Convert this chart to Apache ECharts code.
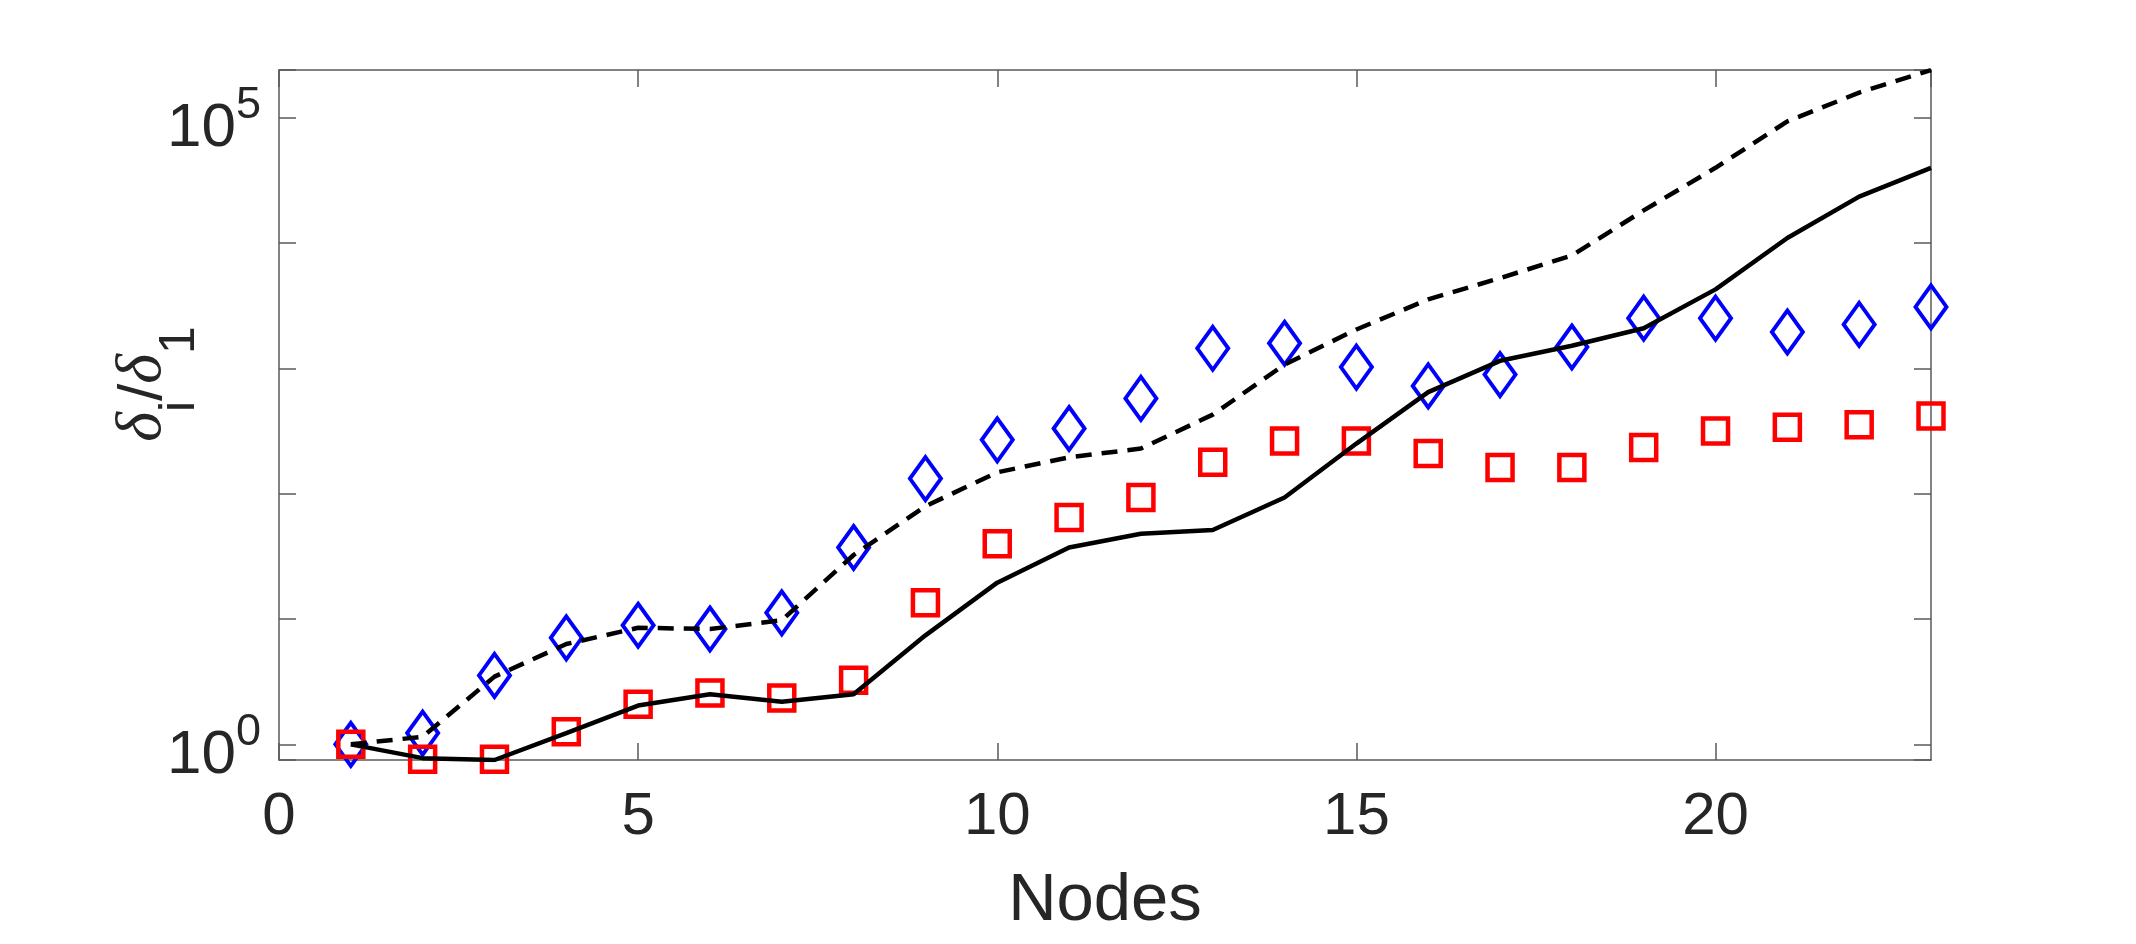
<!DOCTYPE html>
<html>
<head>
<meta charset="utf-8">
<script src="https://cdn.jsdelivr.net/npm/echarts@6.0.0/dist/echarts.min.js"></script>
<style>
    html, body {margin: 0; padding: 0; background: #fff;}
    #main {width: 2136px; height: 944px;}
</style>
</head>
<body>
<div id="main"></div>
<script>
// x positions (node index)
const nodes = [1, 2, 3, 4, 5, 6, 7, 8, 9, 10, 11, 12, 13, 14, 15, 16, 17, 18, 19, 20, 21, 22, 23];

// blue diamonds
const diamonds = [1, 1.23, 3.55, 7.08, 8.91, 8.32, 11.2, 37.2, 132, 269, 331, 575, 1445, 1585,
    1023, 724, 891, 1479, 2512, 2512, 1950, 2239, 3090];
// red squares
const squares = [1, 0.759, 0.759, 1.26, 2.09, 2.57, 2.34, 3.24, 13.5, 39.8, 64.6, 93.3, 178, 263,
    263, 209, 162, 162, 234, 316, 339, 355, 417];
// solid black line
const solidLine = [1, 0.776, 0.75, 1.23, 2.04, 2.51, 2.19, 2.51, 7.41, 19.5, 37.2, 47.9, 51.3, 93.3,
    251, 646, 1148, 1514, 2089, 4266, 10965, 23442, 39811];
// dashed black line
const dashedLine = [1, 1.15, 3.47, 6.31, 8.51, 8.32, 9.77, 32.4, 79.4, 148, 195, 229, 427, 1072,
    2042, 3548, 5248, 7943, 18197, 39811, 93325, 158489, 239883];

// tick labels
const xTicks = [0, 5, 10, 15, 20];
const yLabelPowers = [0, 5];

const font = '"Liberation Sans", Arial, Helvetica, sans-serif';
const textColor = '#262626';
const axisColor = '#5a5a5a';

const pairs = arr => arr.map((v, i) => [nodes[i], v]);

// only label 10^0 and 10^5
const yLabel = value => {
    let lg = Math.log10(value);
    let e = Math.round(lg);
    if (Math.abs(lg - e) > 1e-6 || !yLabelPowers.includes(e)) return '';
    return '{b|10}{s|' + e + '}';
};

const axisLine = {show: true, onZero: false, lineStyle: {color: axisColor, width: 1.5}};
const axisTick = {show: true, inside: true, length: 17, lineStyle: {color: axisColor, width: 1.5}};

let chart = echarts.init(document.getElementById('main'));

const option = {
    animation: false,
    backgroundColor: '#fff',
    grid: {left: 279, right: 205, top: 70, bottom: 184},
    xAxis: [
        {
            type: 'value',
            min: 0,
            max: 23,
            interval: 5,
            position: 'bottom',
            name: 'Nodes',
            nameLocation: 'middle',
            nameGap: 108,
            nameTextStyle: {fontFamily: font, fontSize: 67, color: textColor},
            axisLine: axisLine,
            axisTick: axisTick,
            axisLabel: {
                margin: 27,
                fontFamily: font,
                fontSize: 60,
                color: textColor,
                showMaxLabel: false,
                formatter: v => xTicks.includes(v) ? String(v) : ''
            },
            splitLine: {show: false}
        },
        {
            type: 'value',
            min: 0,
            max: 23,
            interval: 5,
            position: 'top',
            axisLine: axisLine,
            axisTick: axisTick,
            axisLabel: {show: false},
            splitLine: {show: false}
        }
    ],
    yAxis: [
        {
            type: 'log',
            logBase: 10,
            min: 0.75,
            max: 240000,
            position: 'left',
            name: '{d|δ}{sb|i}{sl|/}{d|δ}{sb|1}',
            nameLocation: 'middle',
            nameRotate: 90,
            nameGap: 74,
            nameMoveOverlap: false,
            nameTextStyle: {
                fontFamily: font,
                fontSize: 64,
                color: textColor,
                padding: [0, 0, 0, 62],
                rich: {
                    d: {fontFamily: '"Liberation Serif", serif', fontStyle: 'italic', fontSize: 64, color: textColor,
                        verticalAlign: 'bottom', padding: [0, 0, 30, 0]},
                    sl: {fontFamily: font, fontSize: 62, color: textColor, verticalAlign: 'bottom', padding: [0, 0, 30, 0]},
                    sb: {fontFamily: font, fontSize: 50, color: textColor, verticalAlign: 'bottom'}
                }
            },
            axisLine: axisLine,
            axisTick: axisTick,
            minorTick: {show: false},
            axisLabel: {
                margin: 18,
                fontFamily: font,
                fontSize: 62,
                color: textColor,
                padding: [8, 0, 0, 0],
                formatter: yLabel,
                rich: {
                    b: {fontFamily: font, fontSize: 62, lineHeight: 77, color: textColor, verticalAlign: 'bottom'},
                    s: {fontFamily: font, fontSize: 45, lineHeight: 45, color: textColor, verticalAlign: 'top'}
                }
            },
            splitLine: {show: false}
        },
        {
            type: 'log',
            logBase: 10,
            min: 0.75,
            max: 240000,
            position: 'right',
            axisLine: axisLine,
            axisTick: axisTick,
            minorTick: {show: false},
            axisLabel: {show: false},
            splitLine: {show: false}
        }
    ],
    series: [
        {
            type: 'scatter',
            symbol: 'diamond',
            symbolSize: [31, 43],
            data: pairs(diamonds),
            itemStyle: {color: 'rgba(0,0,0,0)', borderColor: '#0000ff', borderWidth: 4, opacity: 1},
            z: 2
        },
        {
            type: 'scatter',
            symbol: 'rect',
            symbolSize: 25,
            data: pairs(squares),
            itemStyle: {color: 'rgba(0,0,0,0)', borderColor: '#ff0000', borderWidth: 4.5, opacity: 1},
            z: 2
        },
        {
            type: 'line',
            data: pairs(solidLine),
            symbol: 'none',
            lineStyle: {color: '#000', width: 4.5},
            z: 3
        },
        {
            type: 'line',
            data: pairs(dashedLine),
            symbol: 'none',
            lineStyle: {color: '#000', width: 4.5, type: [16, 10]},
            z: 3
        }
    ]
};

chart.setOption(option);
</script>
</body>
</html>
